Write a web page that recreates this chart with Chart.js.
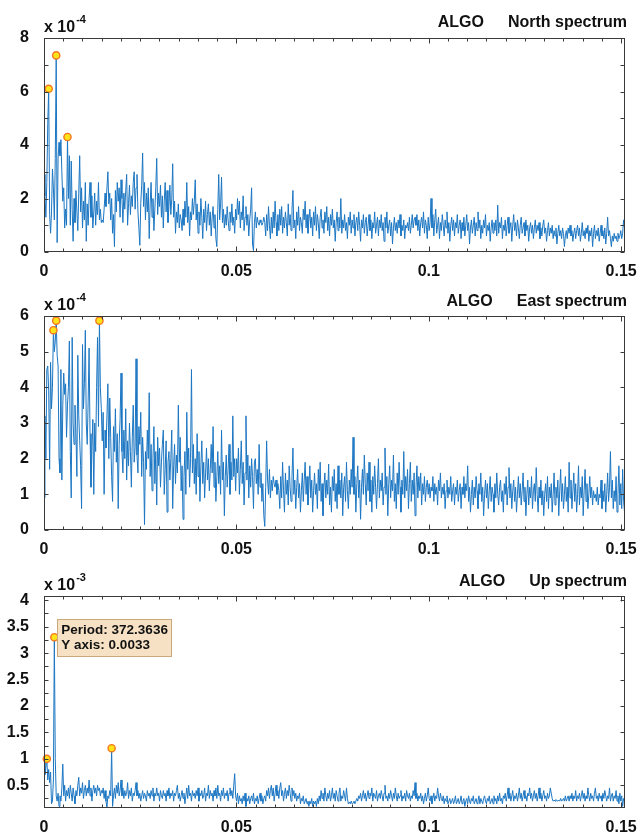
<!DOCTYPE html>
<html><head><meta charset="utf-8">
<script src="https://cdn.jsdelivr.net/npm/chart.js@4/dist/chart.umd.min.js"></script>
<style>
html,body{margin:0;padding:0;background:#fff;}
#wrap{position:relative;width:638px;height:835px;overflow:hidden;background:#fff;}
canvas{position:absolute;left:0;}
</style></head><body>
<div id="wrap">
<canvas id="c1" width="638" height="280" style="top:0px"></canvas>
<canvas id="c2" width="638" height="278" style="top:280px"></canvas>
<canvas id="c3" width="638" height="277" style="top:558px"></canvas>
</div>
<script>
// frequency resolution (cycles/day): spectrum bins k/4096
const FREQ_STEP = 1/4096;
const X_MAX = 0.151;
const xTickLabels = [0, 0.05, 0.1, 0.15];

const northTickLabels = [0, 2, 4, 6, 8];
const eastTickLabels = [0, 1, 2, 3, 4, 5, 6];
const upTickLabels = [0.5, 1, 1.5, 2, 2.5, 3, 3.5, 4];

// North spectrum, units of 1e-4
const northValues = [
2.9,2.1,1.3,2.6,4.8,6.1,1.4,0.7,1.5,3.1,2.4,1.2,3.5,7.35,0.35,3.5,4.1,3.6,4.2,3.0,
1.9,2.4,0.9,1.6,1.0,4.3,2.0,3.6,1.0,3.4,1.6,0.4,2.0,1.1,2.3,1.5,0.8,2.2,3.6,1.5,
2.4,0.9,1.9,1.2,2.6,0.4,1.8,1.0,2.0,2.6,1.3,2.1,0.9,1.5,2.2,1.0,1.9,1.4,2.6,1.2,
1.6,1.1,1.2,1.1,1.6,2.2,1.7,2.4,3.0,1.8,2.2,1.2,2.0,0.7,1.4,0.2,2.3,1.5,2.6,1.9,
2.4,1.3,2.7,2.0,1.1,2.2,1.6,2.3,2.9,1.0,1.8,2.5,1.4,2.1,1.7,2.6,3.0,1.6,2.4,2.9,
1.5,0.9,0.25,1.8,2.5,3.7,1.7,2.6,1.2,2.2,1.5,2.4,0.5,1.8,2.6,1.3,2.0,0.8,1.6,2.4,
3.5,1.4,2.2,1.7,2.5,1.3,2.1,0.9,1.9,2.6,1.5,2.3,1.1,1.7,2.5,1.4,2.0,3.3,1.3,1.9,
0.7,1.5,1.1,1.8,0.9,1.4,1.2,0.8,1.6,1.0,1.9,1.3,2.6,1.1,1.7,0.6,1.5,1.2,2.0,1.4,
1.9,2.7,1.2,1.8,0.7,1.5,1.0,2.0,1.3,0.5,1.6,1.1,1.9,0.8,1.4,1.8,1.0,1.5,0.6,1.3,
1.7,0.9,1.4,0.5,0.2,1.6,2.9,1.2,1.8,2.8,1.1,1.6,0.9,1.4,1.0,1.7,1.2,0.8,1.5,1.1,
1.8,1.0,1.3,0.7,1.6,1.2,2.0,1.4,1.9,0.9,1.5,1.2,2.1,0.8,1.3,1.7,1.0,1.4,0.6,1.2,
1.6,2.4,0.3,0.05,1.1,1.5,0.9,1.3,1.1,1.0,1.2,1.1,1.0,1.1,1.3,1.1,0.6,1.4,0.8,1.7,
1.0,0.5,1.3,0.7,1.5,0.9,1.9,1.1,0.6,1.4,0.8,1.6,1.0,1.7,0.7,1.3,0.9,1.5,1.1,0.6,
1.8,1.0,1.4,0.8,1.6,2.3,0.9,1.2,0.5,1.5,1.0,1.7,0.8,1.3,1.1,0.7,1.6,1.2,1.9,0.9,
1.4,0.7,1.2,1.6,0.9,1.3,0.6,1.5,1.0,1.7,0.8,1.4,1.1,0.5,1.3,1.6,0.9,1.2,0.7,1.5,
1.1,1.7,0.8,1.3,0.6,1.4,1.0,1.6,0.9,1.2,0.4,1.1,1.5,0.8,1.3,0.9,2.0,0.7,1.2,0.9,
1.4,0.8,1.1,0.5,1.3,1.0,1.5,0.7,1.2,0.9,1.4,0.6,1.1,1.3,0.8,1.5,1.0,0.4,1.2,0.9,
1.4,0.7,1.1,1.3,0.6,1.0,1.4,0.8,1.2,0.5,1.1,0.9,1.5,0.7,1.0,1.3,0.6,1.2,0.9,1.4,
0.8,1.1,0.4,1.3,0.9,1.5,0.7,1.0,1.2,0.6,1.1,0.3,0.9,1.3,0.8,1.1,0.7,1.2,0.9,1.4,
0.6,1.0,0.8,1.2,0.5,1.0,0.9,1.1,0.8,1.3,0.7,1.0,1.4,0.9,1.2,1.3,1.0,1.4,0.8,1.2,
0.6,1.1,1.3,0.9,1.5,0.7,1.2,1.0,0.5,1.3,0.8,1.1,2.0,0.9,1.4,0.6,1.2,1.6,0.7,1.0,
1.3,0.5,1.1,0.8,1.4,1.0,0.6,1.2,0.9,1.5,0.7,1.1,0.4,1.0,1.3,0.8,1.2,0.6,1.1,0.9,
1.4,0.7,1.0,1.2,0.5,1.1,0.8,1.3,0.6,1.0,1.4,0.8,1.1,0.3,0.9,1.2,0.7,1.0,1.3,0.6,
1.1,0.8,1.5,0.9,1.2,0.5,1.0,0.7,1.2,0.9,1.4,0.6,1.0,0.8,1.1,0.4,0.9,1.2,0.7,1.1,
0.8,1.2,0.6,1.75,0.7,1.1,0.9,1.3,0.5,1.0,0.8,1.2,0.6,1.0,1.3,0.7,0.9,1.1,0.4,1.0,
1.4,0.8,1.1,0.6,1.2,0.9,0.5,1.0,1.3,0.7,0.9,1.1,0.6,1.2,0.8,1.0,0.4,0.9,1.1,0.7,
1.0,0.5,0.9,1.2,0.7,1.0,0.8,1.1,0.5,0.9,0.6,1.0,1.2,0.7,0.9,0.4,0.8,1.1,0.6,0.9,
0.7,1.0,0.5,0.8,0.6,0.9,0.3,0.7,1.0,0.6,0.8,0.5,0.9,0.7,0.2,0.6,0.8,0.5,0.9,0.7,
1.0,0.6,0.8,0.4,0.7,0.9,0.5,0.8,1.0,0.6,0.9,0.4,0.7,1.1,0.6,0.8,0.5,0.9,0.7,1.0,
0.4,0.8,0.6,0.9,0.2,0.7,1.0,0.5,0.8,0.6,0.9,0.4,0.7,1.0,0.6,0.8,0.5,0.9,0.3,0.7,
1.3,0.6,0.8,0.5,0.2,0.6,0.4,0.7,0.5,0.6,0.4,0.7,0.5,0.6,0.8,0.5,0.7,1.2,0.9
];

// East spectrum, units of 1e-4
const eastValues = [
0.9,3.2,2.0,4.5,4.6,3.9,1.7,4.7,3.4,4.0,5.6,5.0,5.3,5.87,4.9,4.6,2.0,1.6,4.5,1.4,
3.5,4.4,3.8,4.1,2.6,3.5,4.0,5.3,2.2,0.9,5.4,3.0,2.4,3.5,2.7,1.5,4.9,3.2,2.5,1.8,
0.6,5.2,3.4,4.1,5.6,3.0,2.4,3.6,5.1,2.7,1.2,2.3,3.1,1.0,3.0,2.2,4.0,5.4,2.9,5.87,
4.0,3.4,2.5,3.3,1.0,2.8,2.3,3.2,4.1,2.0,3.7,2.6,1.5,0.8,2.9,2.2,3.4,1.9,2.7,0.6,
2.4,3.1,4.4,2.2,1.6,2.8,2.0,3.4,1.4,2.5,1.8,3.0,2.2,1.2,2.6,3.5,1.9,2.3,4.8,2.1,
1.6,2.9,2.4,3.3,1.5,2.6,1.9,0.15,2.2,1.7,2.8,2.0,3.85,1.5,2.4,1.1,2.0,2.9,1.3,2.2,
0.7,2.6,1.8,2.3,1.2,1.9,2.4,2.8,1.0,1.7,2.5,0.5,1.9,2.2,1.4,2.0,2.8,0.6,1.8,2.4,
1.3,2.1,1.6,3.5,1.9,2.6,1.1,1.8,0.3,1.5,2.2,1.0,3.3,1.7,2.3,1.2,2.0,4.5,1.6,2.4,
1.3,2.0,1.0,2.7,1.5,2.2,0.8,1.8,2.5,1.3,1.9,0.9,1.6,2.3,1.4,2.0,1.1,1.7,2.4,1.6,
2.9,1.2,1.9,0.8,1.5,2.2,1.3,1.8,1.0,2.8,1.4,1.9,0.4,1.5,2.1,1.2,1.7,2.4,1.0,1.9,
1.4,3.2,1.5,2.0,1.1,2.0,1.6,2.3,1.0,1.7,2.5,1.3,1.9,0.7,1.6,3.2,1.4,2.1,0.9,1.8,
1.2,2.0,1.5,0.6,1.9,2.0,1.3,1.7,1.0,2.4,1.2,1.6,0.8,1.3,0.4,0.1,1.2,2.5,1.4,1.0,
1.7,0.9,1.4,1.1,1.5,1.3,1.2,1.4,1.0,1.3,1.1,0.6,1.5,0.9,1.9,1.1,0.5,1.6,1.0,1.4,
0.7,1.8,1.2,0.8,1.5,2.3,1.0,1.4,0.6,1.2,1.7,0.9,1.3,0.5,1.1,1.6,0.8,1.4,1.9,1.0,
1.5,0.7,1.2,1.8,0.9,1.4,0.5,1.1,1.6,1.0,1.3,0.6,1.7,1.1,1.9,0.8,1.3,0.4,1.2,1.6,
0.9,1.4,1.0,1.85,0.7,1.2,0.5,1.5,1.1,1.7,0.8,1.3,0.6,1.8,1.0,1.4,0.9,1.6,0.4,1.2,
1.5,0.8,1.9,1.1,0.6,1.4,1.0,1.7,1.2,2.6,1.0,1.5,0.5,1.3,1.8,0.9,1.4,0.3,1.2,1.7,
1.0,2.1,1.3,0.7,1.6,1.1,1.9,0.8,1.4,0.5,1.5,1.0,1.8,1.2,0.6,1.3,2.0,0.9,1.4,1.1,
1.6,0.7,1.2,2.3,1.0,1.5,0.4,1.3,1.8,0.9,1.4,1.1,2.1,0.8,1.3,0.6,1.6,1.0,1.9,1.2,
0.5,1.4,1.0,2.2,0.9,1.5,1.1,1.7,0.6,1.3,1.9,0.8,1.4,1.0,1.6,0.4,1.2,1.8,0.9,1.5,
1.1,1.6,0.7,1.3,1.0,1.5,0.8,1.2,1.4,1.0,1.3,0.9,1.2,1.1,1.5,0.8,1.3,1.0,1.2,0.7,
1.4,1.1,1.6,0.9,1.2,1.0,1.3,0.6,1.1,1.4,0.9,1.2,1.0,1.5,0.8,1.1,1.3,0.7,1.2,1.0,
1.4,0.8,1.1,1.3,0.6,1.2,1.0,1.5,0.9,1.3,1.1,1.8,0.8,1.2,0.5,1.0,1.4,0.7,1.2,0.9,
1.5,1.1,0.6,1.3,1.0,1.6,0.8,1.2,0.4,1.0,1.4,0.9,1.3,0.6,1.1,1.5,0.8,1.2,1.0,0.5,
1.3,0.9,1.6,1.0,0.7,1.2,1.4,0.8,1.1,0.5,1.3,1.0,1.5,0.7,1.2,1.75,0.9,1.3,0.6,1.1,
1.4,0.8,1.2,0.5,1.0,1.5,0.9,1.3,0.7,1.1,1.6,0.8,1.2,0.4,1.0,1.4,0.7,1.2,0.9,1.5,
0.6,1.1,1.3,0.8,1.75,1.0,0.5,1.2,0.9,1.4,0.7,1.1,0.4,1.0,1.3,0.8,1.5,0.6,1.2,0.9,
1.3,0.5,1.0,1.6,0.7,1.2,0.9,1.4,0.4,1.1,1.7,0.8,1.3,0.6,1.0,1.5,0.8,1.2,0.5,1.9,
0.9,1.4,0.6,1.1,1.6,0.8,1.3,0.5,1.0,1.8,0.7,1.2,0.9,1.5,0.4,1.1,1.7,0.8,1.3,0.6,
1.0,1.5,0.9,1.2,0.7,1.1,0.9,1.0,0.8,1.2,0.7,1.0,0.9,1.4,0.6,1.1,0.8,1.3,0.5,1.0,
1.6,0.8,1.2,2.2,0.9,1.4,0.6,1.1,0.8,1.5,0.5,1.0,1.8,0.7,1.3,0.6,1.7,0.8,0.5
];

// Up spectrum, units of 1e-3
const upValues = [
0.95,0.7,0.85,1.0,0.6,0.8,0.55,0.75,0.15,0.2,0.6,3.3,1.0,0.3,0.2,0.35,0.1,0.3,0.2,0.45,
0.9,0.3,0.5,0.2,0.4,0.3,0.45,0.25,0.5,0.35,0.2,0.45,0.3,0.15,0.4,0.3,0.5,0.65,0.3,0.45,
0.35,0.55,0.25,0.4,0.5,0.3,0.45,0.35,0.6,0.3,0.45,0.2,0.4,0.5,0.35,0.45,0.3,0.5,0.4,0.45,
0.3,0.4,0.35,0.45,0.25,0.4,0.2,0.08,0.3,0.25,0.4,0.3,1.2,0.1,0.3,0.45,0.25,0.5,0.35,0.55,
0.3,0.4,0.6,0.3,0.45,0.25,0.4,0.3,0.35,0.55,0.25,0.4,0.3,0.45,0.2,0.35,0.3,0.4,0.55,0.3,
0.4,0.25,0.35,0.2,0.3,0.4,0.25,0.35,0.3,0.2,0.4,0.3,0.35,0.25,0.4,0.3,0.45,0.2,0.35,0.3,
0.45,0.3,0.35,0.2,0.4,0.3,0.25,0.4,0.3,0.35,0.2,0.4,0.3,0.45,0.25,0.35,0.3,0.4,0.2,0.35,
0.3,0.4,0.5,0.25,0.35,0.2,0.3,0.4,0.25,0.35,0.15,0.3,0.45,0.25,0.5,0.3,0.35,0.2,0.4,0.3,
0.35,0.25,0.4,0.3,0.45,0.2,0.35,0.3,0.4,0.25,0.3,0.45,0.2,0.35,0.3,0.5,0.25,0.4,0.3,0.35,
0.2,0.4,0.3,0.45,0.25,0.5,0.3,0.35,0.2,0.4,0.3,0.45,0.25,0.35,0.3,0.4,0.2,0.35,0.45,0.3,
0.4,0.25,0.5,0.72,0.3,0.2,0.35,0.15,0.3,0.2,0.25,0.15,0.3,0.2,0.35,0.1,0.25,0.2,0.3,0.15,
0.25,0.3,0.2,0.35,0.15,0.25,0.2,0.3,0.15,0.25,0.35,0.2,0.3,0.15,0.25,0.3,0.2,0.4,0.3,0.45,
0.25,0.4,0.5,0.3,0.45,0.2,0.35,0.5,0.3,0.4,0.25,0.45,0.55,0.3,0.4,0.2,0.35,0.45,0.25,0.4,
0.3,0.5,0.35,0.2,0.45,0.3,0.4,0.25,0.35,0.2,0.3,0.25,0.35,0.15,0.25,0.2,0.3,0.15,0.2,0.25,
0.15,0.2,0.1,0.2,0.15,0.25,0.1,0.2,0.15,0.2,0.1,0.25,0.15,0.3,0.2,0.4,0.25,0.35,0.2,0.45,
0.3,0.2,0.35,0.25,0.4,0.2,0.3,0.45,0.25,0.35,0.2,0.4,0.3,0.2,0.35,0.45,0.2,0.3,0.25,0.4,
0.3,0.2,0.45,0.25,0.15,0.18,0.15,0.2,0.15,0.17,0.2,0.15,0.2,0.25,0.2,0.3,0.25,0.35,0.2,0.3,
0.4,0.25,0.35,0.2,0.3,0.4,0.25,0.35,0.3,0.45,0.2,0.35,0.3,0.25,0.4,0.2,0.3,0.35,0.25,0.4,
0.3,0.2,0.35,0.5,0.25,0.3,0.2,0.35,0.25,0.4,0.3,0.2,0.35,0.25,0.45,0.3,0.2,0.35,0.25,0.3,
0.4,0.2,0.3,0.25,0.35,0.2,0.4,0.3,0.25,0.35,0.2,0.3,0.25,0.4,0.3,0.55,0.25,0.35,0.2,0.3,
0.25,0.35,0.2,0.3,0.15,0.25,0.35,0.2,0.3,0.45,0.25,0.2,0.3,0.15,0.25,0.35,0.2,0.3,0.25,0.45,
0.3,0.2,0.35,0.25,0.2,0.3,0.15,0.25,0.2,0.3,0.15,0.2,0.25,0.15,0.2,0.25,0.15,0.2,0.3,0.15,
0.2,0.25,0.15,0.2,0.3,0.15,0.2,0.25,0.1,0.2,0.25,0.15,0.3,0.2,0.15,0.25,0.2,0.3,0.15,0.2,
0.25,0.15,0.2,0.3,0.15,0.25,0.2,0.15,0.25,0.3,0.2,0.15,0.25,0.2,0.3,0.15,0.2,0.25,0.15,0.3,
0.2,0.25,0.15,0.3,0.2,0.35,0.2,0.25,0.15,0.3,0.25,0.35,0.2,0.3,0.45,0.25,0.35,0.2,0.3,0.4,
0.2,0.3,0.25,0.35,0.2,0.3,0.45,0.25,0.35,0.2,0.3,0.4,0.25,0.3,0.2,0.35,0.3,0.45,0.25,0.35,
0.2,0.3,0.4,0.25,0.35,0.2,0.3,0.45,0.25,0.35,0.2,0.3,0.4,0.25,0.3,0.2,0.35,0.25,0.3,0.45,
0.35,0.25,0.2,0.22,0.2,0.23,0.21,0.2,0.22,0.2,0.25,0.2,0.22,0.25,0.2,0.3,0.2,0.25,0.3,0.2,
0.3,0.25,0.35,0.2,0.3,0.25,0.4,0.2,0.3,0.25,0.35,0.2,0.3,0.4,0.25,0.35,0.2,0.3,0.25,0.45,
0.3,0.2,0.35,0.25,0.3,0.2,0.35,0.45,0.25,0.3,0.2,0.35,0.25,0.3,0.2,0.35,0.25,0.4,0.3,0.2,
0.3,0.25,0.45,0.2,0.3,0.35,0.2,0.3,0.25,0.4,0.2,0.3,0.15,0.35,0.2,0.3,0.1,0.25,0.2
];

// peak-marker bin indices
const northPeaks = [5, 13, 25];
const eastPeaks = [10, 13, 59];
const upPeaks = [3, 11, 72];
const upTipIndex = 11;

const FONT = "'Liberation Sans', Arial, Helvetica, sans-serif";
Chart.defaults.font.family = FONT;

function panel(id, vals, peaks, cfg) {
  const line = vals.map((v, k) => ({x: k * FREQ_STEP, y: v}));
  const pts = peaks.map(k => ({x: k * FREQ_STEP, y: vals[k]}));
  const deco = {
    id: 'deco' + id,
    afterDraw(chart) {
      const {ctx, chartArea: a, scales: {x, y}} = chart;
      ctx.save();
      const L = Math.round(a.left) + 0.5, R = Math.round(a.right) - 0.5;
      const T = Math.round(a.top) + 0.5, B = Math.round(a.bottom) - 0.5;
      ctx.strokeStyle = '#3a3a3a';
      ctx.lineWidth = 1;
      ctx.strokeRect(L, T, R - L, B - T);
      ctx.beginPath();
      for (let i = 0; i * 0.005 <= X_MAX; i++) {
        const px = Math.round(x.getPixelForValue(i * 0.005)) + 0.5;
        const len = (i % 10 === 0) ? 5 : 3;
        ctx.moveTo(px, B); ctx.lineTo(px, B - len);
        ctx.moveTo(px, T); ctx.lineTo(px, T + len);
      }
      cfg.yTicksLeft.forEach(v => {
        const py = Math.round(y.getPixelForValue(v)) + 0.5;
        ctx.moveTo(L, py); ctx.lineTo(L + 4, py);
      });
      cfg.yTicksRight.forEach(v => {
        const py = Math.round(y.getPixelForValue(v)) + 0.5;
        ctx.moveTo(R, py); ctx.lineTo(R - 4, py);
      });
      ctx.stroke();

      ctx.fillStyle = '#111';
      ctx.textBaseline = 'alphabetic';
      // exponent label
      ctx.textAlign = 'left';
      ctx.font = 'bold 16px ' + FONT;
      ctx.fillText('x 10', 44, cfg.expBase);
      const w = ctx.measureText('x 10').width;
      ctx.font = 'bold 11px ' + FONT;
      ctx.fillText(cfg.exp, 44 + w + 1, cfg.expBase - 9);
      // title
      ctx.font = 'bold 16px ' + FONT;
      ctx.textAlign = 'right';
      ctx.fillText(cfg.title, 627, cfg.titleBase);
      const w2 = ctx.measureText(cfg.title).width;
      ctx.fillText('ALGO', 627 - w2 - 24, cfg.titleBase);

      if (cfg.tip !== undefined) {
        const k = cfg.tip;
        const px = x.getPixelForValue(k * FREQ_STEP);
        const py = y.getPixelForValue(vals[k]);
        const bx = Math.round(px + 3) + 0.5, by = Math.round(py - 18) + 0.5;
        ctx.fillStyle = '#f6e1c4';
        ctx.strokeStyle = '#c9a87c';
        ctx.fillRect(bx, by, 114, 37);
        ctx.strokeRect(bx, by, 114, 37);
        ctx.fillStyle = '#111';
        ctx.textAlign = 'left';
        ctx.font = 'bold 13.5px ' + FONT;
        const period = (1 / (k * FREQ_STEP)).toFixed(4);
        const yv = (vals[k] * cfg.unit).toFixed(4);
        ctx.fillText('Period: ' + period, px + 7, py - 3);
        ctx.fillText('Y axis: ' + yv, px + 7, py + 12);
      }
      ctx.restore();
    }
  };
  return new Chart(document.getElementById(id), {
    type: 'line',
    data: {datasets: [
      {type: 'scatter', data: pts, order: 0, pointRadius: 3.6, pointBackgroundColor: '#ffe31a',
       pointBorderColor: '#f4761e', pointBorderWidth: 1.4, clip: false, showLine: false},
      {data: line, order: 1, borderColor: 'rgb(28,118,194)', borderWidth: 1, pointRadius: 0,
       tension: 0, fill: false}
    ]},
    options: {
      responsive: false, animation: false, devicePixelRatio: 1, events: [],
      layout: {padding: {top: cfg.top, right: 13, left: 0, bottom: 0}},
      plugins: {legend: {display: false}, tooltip: {enabled: false}},
      scales: {
        x: {type: 'linear', min: 0, max: X_MAX,
            grid: {display: false}, border: {display: false},
            afterBuildTicks: s => { s.ticks = xTickLabels.map(v => ({value: v})); },
            afterFit: s => { s.height = cfg.xh; s.paddingRight = 0; s.paddingLeft = 0; },
            ticks: {padding: 2, maxRotation: 0, autoSkip: false, color: '#111',
                    font: {size: 16, weight: 'bold'}, callback: v => String(v)}},
        y: {type: 'linear', min: cfg.ymin, max: cfg.ymax,
            grid: {display: false}, border: {display: false},
            afterBuildTicks: s => { s.ticks = cfg.yLabels.map(v => ({value: v})); },
            afterFit: s => { s.width = 44; s.paddingTop = 0; s.paddingBottom = 0; },
            ticks: {padding: 7, color: '#111', autoSkip: false,
                    font: {size: 16, weight: 'bold'}, callback: v => String(v)}}
      }
    },
    plugins: [deco]
  });
}

const range = (a, b, s) => { const r = []; for (let v = a; v <= b + 1e-9; v += s) r.push(+v.toFixed(3)); return r; };

panel('c1', northValues, northPeaks, {
  top: 38, xh: 28, ymin: 0, ymax: 8, yLabels: northTickLabels,
  yTicksLeft: range(0, 8, 1), yTicksRight: range(0, 8, 1),
  exp: '-4', expBase: 32, title: 'North spectrum', titleBase: 27, unit: 1e-4
});
panel('c2', eastValues, eastPeaks, {
  top: 36, xh: 28, ymin: 0, ymax: 6, yLabels: eastTickLabels,
  yTicksLeft: range(0, 6, 1), yTicksRight: range(0, 6, 1),
  exp: '-4', expBase: 30, title: 'East spectrum', titleBase: 26, unit: 1e-4
});
panel('c3', upValues, upPeaks, {
  top: 38, xh: 27, ymin: 0.07, ymax: 4.08, yLabels: upTickLabels,
  yTicksLeft: range(0.25, 4, 0.25), yTicksRight: range(0.5, 4, 0.5),
  exp: '-3', expBase: 32, title: 'Up spectrum', titleBase: 28, unit: 1e-3, tip: upTipIndex
});
</script>
</body></html>
